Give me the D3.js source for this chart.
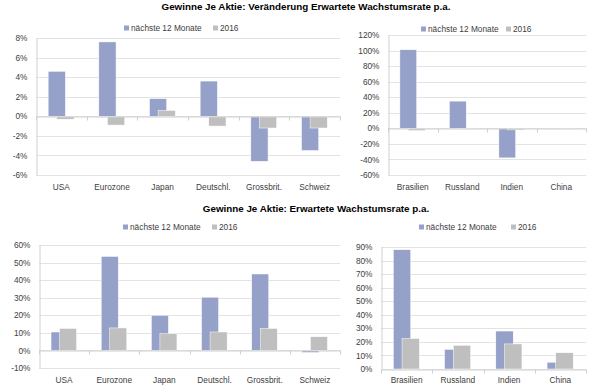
<!DOCTYPE html>
<html lang="de">
    <head>
        <meta charset="utf-8">
        <title>Gewinne Je Aktie</title>
        <script src="https://d3js.org/d3.v7.min.js"></script>
        <style type="text/css">
            body { margin: 0; background: #fff; }
            text { font-family: "Liberation Sans", Arial, sans-serif; fill: #404040; }
            .title { font-weight: bold; fill: #000; font-size: 9.8px; }
        </style>
    </head>
    <body>
        <svg id="chart" width="600" height="391"></svg>
        <script>
            var svg = d3.select('#chart');

            //Series names and colours
            var seriesNames = ['nächste 12 Monate', '2016'];
            var seriesColors = ['#95a1c9', '#bfbfbf'];

            //Top row: Veränderung
            var devCats = ['USA', 'Eurozone', 'Japan', 'Deutschl.', 'Grossbrit.', 'Schweiz'];
            var devChgNext = [0.046, 0.076, 0.018, 0.036, -0.046, -0.035];
            var devChg2016 = [-0.003, -0.009, 0.006, -0.010, -0.012, -0.012];

            var emCats = ['Brasilien', 'Russland', 'Indien', 'China'];
            var emChgNext = [1.01, 0.35, -0.38, -0.01];
            var emChg2016 = [-0.03, -0.01, -0.02, -0.005];

            //Bottom row: Wachstumsrate
            var devGrowNext = [0.105, 0.535, 0.20, 0.303, 0.435, -0.012];
            var devGrow2016 = [0.125, 0.128, 0.095, 0.105, 0.125, 0.078];

            var emGrowNext = [0.88, 0.145, 0.28, 0.05];
            var emGrow2016 = [0.225, 0.175, 0.185, 0.12];

            //Axis tick values
            var ticksP1 = d3.range(-0.06, 0.0801, 0.02);
            var ticksP2 = d3.range(-0.6, 1.201, 0.2);
            var ticksP3 = d3.range(-0.1, 0.601, 0.1);
            var ticksP4 = d3.range(0, 0.901, 0.1);

            //Excel writes a plain hyphen for negatives
            var pct = function(d) { return d3.format('.0%')(d).replace('\u2212', '-'); };
            var fs = '8.3px';

            function drawPanel(cfg) {
                var g = svg.append('g');
                var x = d3.scaleBand().domain(cfg.cats).range(cfg.xr);
                var y = d3.scaleLinear().domain(cfg.yd).range(cfg.yr);
                var bw = x.bandwidth();

                //Grid lines
                g.selectAll('line.grid')
                    .data(cfg.ticks)
                    .enter()
                    .append('line')
                    .attr('x1', cfg.xr[0]).attr('x2', cfg.xr[1])
                    .attr('y1', function(d) { return Math.round(y(d)) + 0.5; })
                    .attr('y2', function(d) { return Math.round(y(d)) + 0.5; })
                    .attr('stroke', '#e3e3e3');

                //Y axis
                var yAxis = d3.axisLeft(y).tickValues(cfg.ticks).tickFormat(pct).tickSize(0).tickPadding(9);
                var ya = g.append('g')
                    .attr('transform', 'translate(' + (cfg.xr[0] + 0.5) + ',0)')
                    .call(yAxis);
                ya.select('.domain').attr('stroke', '#d0d0d0');
                ya.selectAll('text').style('font-size', fs).style('fill', '#404040')
                    .style('font-family', '"Liberation Sans", Arial, sans-serif');

                //Bars
                var series = [cfg.a, cfg.b];
                var offs = [-0.26, -0.09];
                series.forEach(function(vals, si) {
                    g.selectAll('rect.s' + si)
                        .data(vals)
                        .enter()
                        .append('rect')
                        .attr('x', function(d, i) { return x(cfg.cats[i]) + bw / 2 + offs[si] * bw; })
                        .attr('width', bw * 0.34)
                        .attr('y', function(d) { return y(Math.max(0, d)); })
                        .attr('height', function(d) { return Math.abs(y(d) - y(0)); })
                        .attr('fill', seriesColors[si])
                        .attr('stroke', '#fff')
                        .attr('stroke-width', 0.5);
                });

                //Zero line with category ticks
                var y0 = Math.round(y(0)) + 0.5;
                var xAxis = d3.axisBottom(x).tickSize(0).tickPadding(0).tickFormat('');
                var xa = g.append('g')
                    .attr('transform', 'translate(0,' + y0 + ')')
                    .call(xAxis);
                xa.select('.domain').attr('stroke', '#d0d0d0');
                var bounds = d3.range(cfg.cats.length + 1).map(function(i) { return cfg.xr[0] + i * bw; });
                g.selectAll('line.tk')
                    .data(bounds)
                    .enter()
                    .append('line')
                    .attr('x1', function(d) { return Math.round(d) + 0.5; })
                    .attr('x2', function(d) { return Math.round(d) + 0.5; })
                    .attr('y1', y0).attr('y2', y0 + 4)
                    .attr('stroke', '#d0d0d0');

                //Category labels
                g.selectAll('text.cat')
                    .data(cfg.cats)
                    .enter()
                    .append('text')
                    .attr('x', function(d) { return x(d) + bw / 2; })
                    .attr('y', cfg.labelY)
                    .attr('text-anchor', 'middle')
                    .style('font-size', fs)
                    .text(function(d) { return d; });

                //Legend
                var lg = g.append('g').attr('transform', 'translate(' + cfg.legend[0] + ',' + cfg.legend[1] + ')');
                lg.append('rect').attr('x', 0).attr('y', -5.5).attr('width', 5).attr('height', 5).attr('fill', seriesColors[0]);
                lg.append('text').attr('x', 7).attr('y', 0).style('font-size', fs).text(seriesNames[0]);
                lg.append('rect').attr('x', cfg.legendGap).attr('y', -5.5).attr('width', 5).attr('height', 5).attr('fill', seriesColors[1]);
                lg.append('text').attr('x', cfg.legendGap + 7).attr('y', 0).style('font-size', fs).text(seriesNames[1]);
            }

            svg.append('text').attr('class', 'title')
                .attr('x', 306).attr('y', 10).attr('text-anchor', 'middle')
                .text('Gewinne Je Aktie: Veränderung Erwartete Wachstumsrate p.a.');
            svg.append('text').attr('class', 'title')
                .attr('x', 316).attr('y', 212).attr('text-anchor', 'middle')
                .text('Gewinne Je Aktie: Erwartete Wachstumsrate p.a.');

            drawPanel({cats: devCats, a: devChgNext, b: devChg2016, ticks: ticksP1,
                       xr: [36, 340], yd: [-0.06, 0.08], yr: [175, 38], labelY: 190, legend: [124, 31], legendGap: 89});
            drawPanel({cats: emCats, a: emChgNext, b: emChg2016, ticks: ticksP2,
                       xr: [388, 586], yd: [-0.6, 1.2], yr: [175, 35], labelY: 190, legend: [421, 32], legendGap: 85});
            drawPanel({cats: devCats, a: devGrowNext, b: devGrow2016, ticks: ticksP3,
                       xr: [39, 340], yd: [-0.1, 0.6], yr: [368, 245], labelY: 383, legend: [123, 230], legendGap: 89});
            drawPanel({cats: emCats, a: emGrowNext, b: emGrow2016, ticks: ticksP4,
                       xr: [381, 586], yd: [0, 0.9], yr: [369, 247], labelY: 383, legend: [419, 230], legendGap: 92});
        </script>
    </body>
</html>
